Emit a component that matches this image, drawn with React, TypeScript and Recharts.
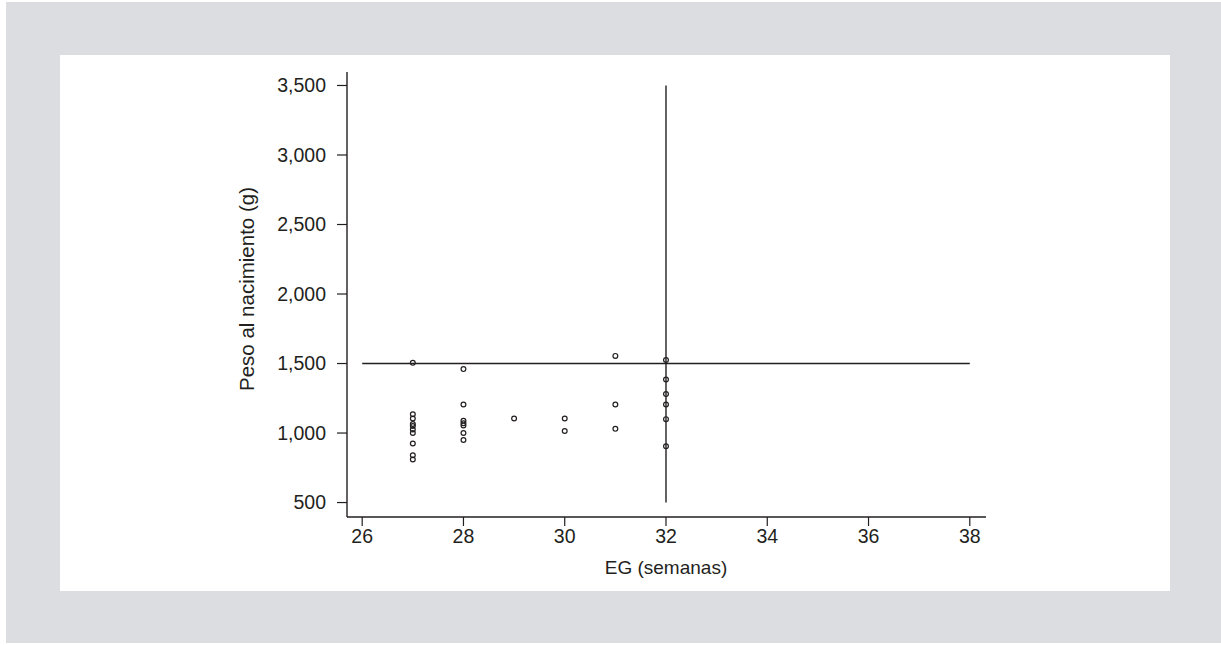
import React from 'react';
import { ScatterChart, Scatter, XAxis, YAxis, ReferenceLine } from 'recharts';

// gestational age (weeks) and birth weight (g) per group
const weeks = [27, 28, 29, 30, 31, 32];
const weights27 = [1505, 1135, 1105, 1065, 1050, 1025, 1000, 925, 840, 810];
const weights28 = [1460, 1205, 1088, 1070, 1055, 1000, 950];
const weights29 = [1105];
const weights30 = [1105, 1015];
const weights31 = [1555, 1205, 1030];
const weights32 = [1525, 1385, 1280, 1205, 1100, 905];
const weightGroups = [weights27, weights28, weights29, weights30, weights31, weights32];

const xTicks = [26, 28, 30, 32, 34, 36, 38];
const yTicks = [500, 1000, 1500, 2000, 2500, 3000, 3500];

// cut-off lines: 1,500 g and 32 weeks
const weightCut = { y: 1500, from: 26, to: 38 };
const weekCut = { x: 32, from: 500, to: 3500 };

const points = weeks.flatMap((w, i) => weightGroups[i].map((g) => ({ x: w, y: g })));

const INK = '#231f20';
const FONT = 'Liberation Sans, Arial, Helvetica, sans-serif';

const HollowDot = (props: any) => (
  <circle cx={props.cx} cy={props.cy} r={2.4} fill="none" stroke={INK} strokeWidth={1.2} />
);

const App: React.FC = () => {
  return (
    <div style={{ position: 'absolute', left: 0, top: 0, width: 1221, height: 645 }}>
      <div style={{ position: 'absolute', left: 6, top: 2, width: 1215, height: 641, background: '#dcdde0' }} />
      <div style={{ position: 'absolute', left: 60, top: 55, width: 1110, height: 536, background: '#ffffff' }} />
      <div style={{ position: 'absolute', left: 0, top: 0 }}>
        <ScatterChart
          width={1221}
          height={645}
          margin={{ top: 72, right: 235, bottom: 78, left: 247 }}
          style={{ fontFamily: FONT }}
        >
          <XAxis
            type="number"
            dataKey="x"
            domain={[25.7, 38.32]}
            ticks={xTicks}
            height={50}
            allowDataOverflow
            axisLine={{ stroke: INK, strokeWidth: 1.4 }}
            tickLine={{ stroke: INK, strokeWidth: 1.2 }}
            tickSize={9}
            tickMargin={3}
            tick={{ fill: INK, fontSize: 19.5 }}
            label={{
              content: () => (
                <text x={666} y={574} textAnchor="middle" fill={INK} fontSize={19} fontFamily={FONT}>
                  EG (semanas)
                </text>
              ),
            }}
          />
          <YAxis
            type="number"
            dataKey="y"
            domain={[396, 3597]}
            ticks={yTicks}
            width={100}
            allowDataOverflow
            axisLine={{ stroke: INK, strokeWidth: 1.4 }}
            tickLine={{ stroke: INK, strokeWidth: 1.2 }}
            tickSize={10}
            tickMargin={11}
            tick={{ fill: INK, fontSize: 19.5 }}
            tickFormatter={(v: number) => v.toLocaleString('en-US')}
            label={{
              content: () => (
                <text
                  x={254}
                  y={289}
                  transform="rotate(-90 254 289)"
                  textAnchor="middle"
                  fill={INK}
                  fontSize={20.5}
                  fontFamily={FONT}
                >
                  Peso al nacimiento (g)
                </text>
              ),
            }}
          />
          <ReferenceLine
            segment={[
              { x: weightCut.from, y: weightCut.y },
              { x: weightCut.to, y: weightCut.y },
            ]}
            stroke={INK}
            strokeWidth={1.4}
          />
          <ReferenceLine
            segment={[
              { x: weekCut.x, y: weekCut.from },
              { x: weekCut.x, y: weekCut.to },
            ]}
            stroke={INK}
            strokeWidth={1.4}
          />
          <Scatter data={points} shape={HollowDot} isAnimationActive={false} />
        </ScatterChart>
      </div>
    </div>
  );
};

export default App;
